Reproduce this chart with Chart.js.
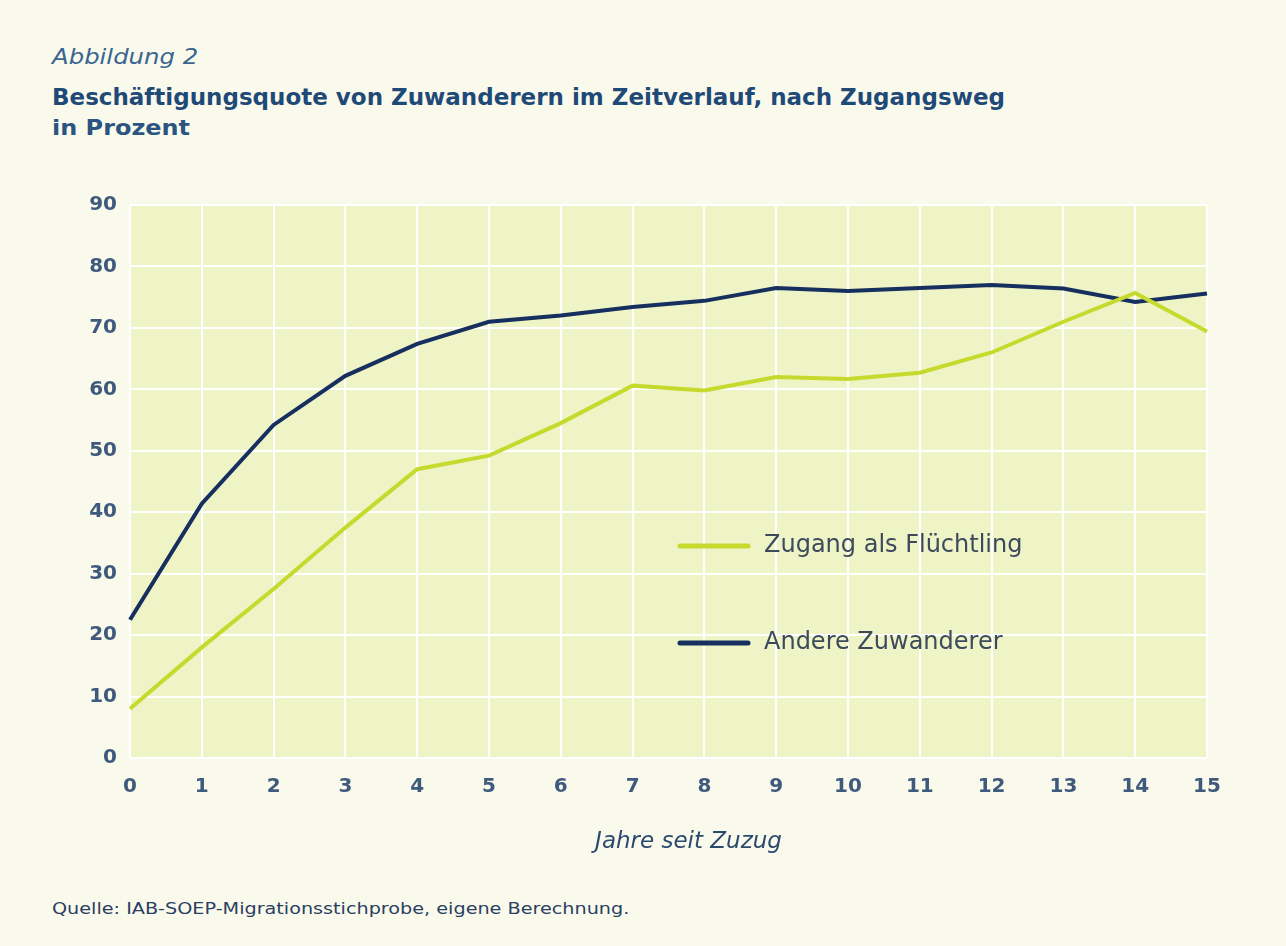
<!DOCTYPE html>
<html lang="de">
<head>
<meta charset="utf-8">
<script src="https://cdn.jsdelivr.net/npm/chart.js@4"></script>
<style>
    html, body { margin: 0; padding: 0; background: #fafaec; }
    body { width: 1286px; height: 946px; position: relative; overflow: hidden; font-family: "DejaVu Sans", sans-serif; }
    .label { position: absolute; left: 52px; white-space: nowrap; transform-origin: left center; }
    #fig { top: 45px; font-size: 21px; font-style: italic; color: #3a6592; transform: scaleX(1.16); }
    #title { top: 84px; font-size: 23px; font-weight: bold; color: #1f4a78; }
    #unit { top: 116px; font-size: 21px; font-weight: bold; color: #2b5580; transform: scaleX(1.14); }
    #source { top: 900px; font-size: 15px; color: #2a3f63; transform: scaleX(1.28); }
    #wrap { position: absolute; left: 0; top: 180px; width: 1286px; height: 690px; }
</style>
</head>
<body>
<div class="label" id="fig">Abbildung 2</div>
<div class="label" id="title">Beschäftigungsquote von Zuwanderern im Zeitverlauf, nach Zugangsweg</div>
<div class="label" id="unit">in Prozent</div>
<div id="wrap"><canvas id="chart"></canvas></div>
<div class="label" id="source">Quelle: IAB-SOEP-Migrationsstichprobe, eigene Berechnung.</div>

<script>
// Jahre seit Zuzug
const years = ['0', '1', '2', '3', '4', '5', '6', '7', '8', '9', '10', '11', '12', '13', '14', '15'];

// Beschäftigungsquote in Prozent
const refugees = [8, 18, 27.5, 37.5, 47, 49.2, 54.5, 60.6, 59.8, 62, 61.7, 62.7, 66, 71, 75.7, 69.4];
const otherMigrants = [22.5, 41.4, 54.2, 62.2, 67.4, 71, 72, 73.4, 74.4, 76.5, 76, 76.5, 77, 76.4, 74.2, 75.6];

const seriesNames = ['Zugang als Flüchtling', 'Andere Zuwanderer'];
const yTicks = [0, 10, 20, 30, 40, 50, 60, 70, 80, 90];
const xTitle = 'Jahre seit Zuzug';

const tickColor = '#3f5a7c';

// fill the plot area with the pale green
const plotBackground = {
    id: 'plotBackground',
    beforeDraw(chart) {
        const { ctx, chartArea: a } = chart;
        ctx.save();
        ctx.fillStyle = '#eef4c6';
        ctx.fillRect(a.left, a.top, a.right - a.left, a.bottom - a.top);
        ctx.restore();
    }
};

// legend sits inside the plot, two rows; axis title a bit right of centre
const innerLegend = {
    id: 'innerLegend',
    afterDatasetsDraw(chart) {
        const { ctx, chartArea: a } = chart;
        const x0 = a.left + 550;
        const rows = [a.top + 341, a.top + 438];
        ctx.save();
        chart.data.datasets.forEach((ds, i) => {
            const y = rows[i];
            ctx.strokeStyle = ds.borderColor;
            ctx.lineWidth = 5;
            ctx.lineCap = 'round';
            ctx.beginPath();
            ctx.moveTo(x0, y);
            ctx.lineTo(x0 + 68, y);
            ctx.stroke();
            ctx.fillStyle = '#3c4a5c';
            ctx.font = '24px "DejaVu Sans", sans-serif';
            ctx.textBaseline = 'middle';
            ctx.fillText(ds.label, x0 + 84, y);
        });

        ctx.fillStyle = '#2b4a6e';
        ctx.font = 'italic 23px "DejaVu Sans", sans-serif';
        ctx.textAlign = 'center';
        ctx.textBaseline = 'middle';
        ctx.fillText(xTitle, (a.left + a.right) / 2 + 20, a.bottom + 84);
        ctx.restore();
    }
};

new Chart(document.getElementById('chart'), {
    type: 'line',
    data: {
        labels: years,
        datasets: [
            {
                label: seriesNames[0],
                data: refugees,
                borderColor: '#c6da2e',
                borderWidth: 4,
                pointRadius: 0,
                tension: 0
            },
            {
                label: seriesNames[1],
                data: otherMigrants,
                borderColor: '#172f5e',
                borderWidth: 4,
                pointRadius: 0,
                tension: 0
            }
        ]
    },
    options: {
        responsive: true,
        maintainAspectRatio: false,
        animation: false,
        layout: { padding: { top: 25, right: 79, left: 0, bottom: 0 } },
        plugins: {
            legend: { display: false },
            tooltip: { enabled: false }
        },
        scales: {
            x: {
                offset: false,
                grid: { color: '#ffffff', lineWidth: 2, drawTicks: false },
                border: { display: false },
                ticks: {
                    color: tickColor,
                    padding: 17,
                    maxRotation: 0,
                    autoSkip: false,
                    font: { family: 'DejaVu Sans', size: 20, weight: 'bold' }
                },
                afterFit(scale) { scale.height = 112; }
            },
            y: {
                min: 0,
                max: 90,
                afterBuildTicks(scale) { scale.ticks = yTicks.map(v => ({ value: v })); },
                grid: { color: '#ffffff', lineWidth: 2, drawTicks: false },
                border: { display: false },
                ticks: {
                    color: tickColor,
                    padding: 13,
                    font: { family: 'DejaVu Sans', size: 20, weight: 'bold' }
                },
                afterFit(scale) { scale.width = 130; }
            }
        }
    },
    plugins: [plotBackground, innerLegend]
});
</script>
</body>
</html>
